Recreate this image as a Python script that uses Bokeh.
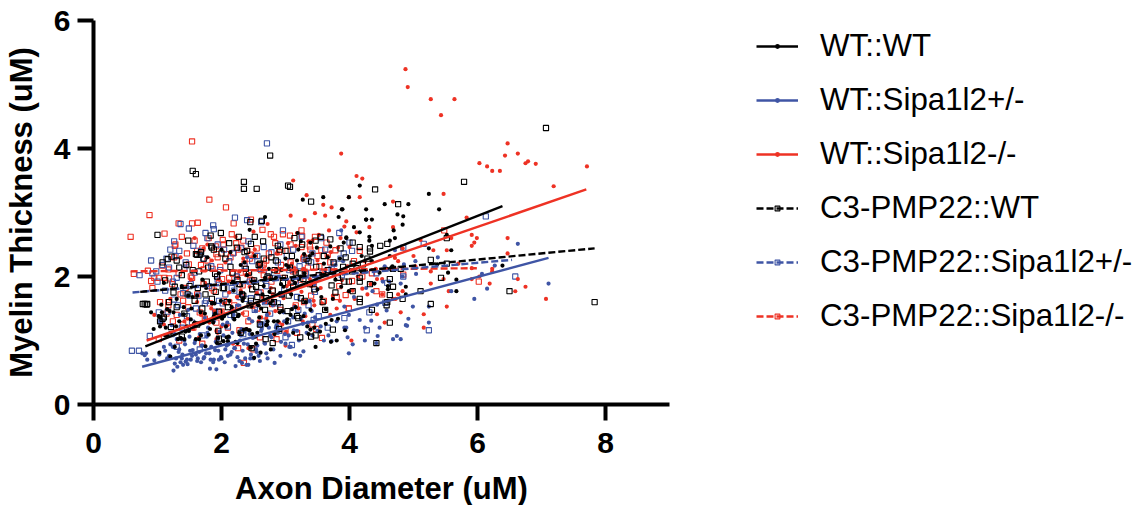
from bokeh.plotting import figure
from bokeh.models import Range1d, Legend, LegendItem, FixedTicker, Label
from bokeh.embed import file_html
from bokeh.resources import INLINE

X_LABEL = "Axon Diameter (uM)"
Y_LABEL = "Myelin Thickness (uM)"
NAMES = ["WT::WT", "WT::Sipa1l2+/-", "WT::Sipa1l2-/-", "C3-PMP22::WT", "C3-PMP22::Sipa1l2+/-", "C3-PMP22::Sipa1l2-/-"]
X_TICKS = [0, 2, 4, 6, 8]
Y_TICKS = [0, 2, 4, 6]

# regression line end points
wt_wt_line_x, wt_wt_line_y = [0.81, 6.39], [0.91, 3.10]
wt_het_line_x, wt_het_line_y = [0.76, 7.11], [0.59, 2.29]
wt_ko_line_x, wt_ko_line_y = [0.83, 7.70], [1.00, 3.36]
c3_wt_line_x, c3_wt_line_y = [0.73, 7.83], [1.76, 2.44]
c3_het_line_x, c3_het_line_y = [0.61, 6.54], [1.75, 2.26]
c3_ko_line_x, c3_ko_line_y = [0.58, 5.99], [2.08, 2.13]

# WT::WT, filled black circles
wt_wt_x = [4.16,3.99,5.24,3.89,4.26,4.55,4.92,5.40,4.75,4.84,4.26,4.35,4.83,4.07,4.16,4.69,4.31,4.31,4.71,4.63,3.95,3.91,4.35,5.24,5.59,5.52,4.63,4.19,4.35,6.39,5.67,5.54,4.88,4.88,5.67,4.39,4.60,4.60,3.99,3.87,4.47,4.19,4.26,4.67,4.59,5.37,
 3.59,3.27,3.88,4.26,3.83,2.68,2.44,3.95,3.19,3.39,3.49,3.70,3.24,0.90,1.06,0.94,1.04,1.21,1.36,1.46,1.49,1.16,1.03,1.20,1.37,1.42,1.65,1.80,1.93,1.75,2.03,2.10,2.25,2.35,2.44,2.56,2.71,2.82,2.95,2.46,2.61,2.51,2.77,3.03,3.10,3.28,3.39,3.63,3.45,3.39,2.20,2.04,1.88,1.72,1.52,1.41,1.25,1.15,1.07,1.05,
 1.30,1.62,1.85,2.12,2.31,2.58,2.90,3.15,3.50,3.78,1.10,1.38,1.70,1.96,2.18,2.40,2.66,2.85,3.05,3.30,3.60,3.85,1.78,2.00,2.30,2.52,2.74,3.00,3.20,3.42,3.66,2.14,2.36,2.62,2.88,3.12,3.34,3.56,3.74,1.55,1.32,1.90,2.08,2.48,2.80,3.08,2.72,2.54,2.94,3.18,3.36,3.72,3.80,1.12,1.58,1.98,2.28,
 1.02,1.13,1.27,1.34,1.44,1.53,1.57,1.68,1.74,1.82,1.89,1.95,2.01,2.07,2.16,2.22,2.27,2.33,2.39,2.47,2.53,2.59,2.64,2.70,2.76,2.83,2.91,2.97,3.02,3.09,3.16,3.23,3.31,3.38,3.47,3.54,3.63,3.71,3.82,3.93,1.19,1.29,1.41,1.48,1.60,1.67,1.76,1.87,1.99,2.11,2.19,2.26,2.34,2.43,2.50,2.57,2.68,2.75,2.86,2.93,3.01,3.11,3.21,3.29,3.44,3.58,3.69,3.76,3.89,4.02]
wt_wt_y = [3.42,3.24,3.29,3.05,3.05,3.13,3.13,3.05,2.97,2.94,2.89,2.89,2.81,2.77,2.69,2.72,2.62,2.56,2.60,2.56,2.60,2.53,2.48,2.44,2.41,2.65,2.32,2.32,2.24,2.17,1.95,2.06,1.84,1.72,1.77,1.89,1.85,1.80,1.77,1.84,2.06,2.08,2.08,2.16,2.12,2.19,
 3.24,3.20,3.05,2.89,2.93,2.93,2.73,2.61,2.68,2.53,2.45,2.47,2.55,1.44,1.56,1.18,1.22,1.12,1.04,1.22,1.15,1.07,0.81,0.75,1.03,1.02,1.02,1.09,0.96,0.91,0.99,0.99,0.96,1.17,1.16,1.12,1.25,1.30,1.46,0.89,0.81,0.73,0.86,1.33,1.49,1.38,1.48,1.49,1.20,1.17,1.33,1.38,1.38,1.28,1.33,1.41,1.44,1.49,1.44,1.36,
 1.65,1.70,1.58,1.62,1.75,1.55,1.72,1.90,1.80,1.95,1.90,1.85,1.95,2.05,1.92,2.02,1.85,1.98,2.15,2.05,2.20,2.28,2.30,2.42,2.18,2.32,2.12,2.28,2.42,2.36,2.30,2.38,2.22,1.50,1.30,1.12,1.22,1.68,1.65,1.68,1.02,1.42,1.05,1.10,1.62,1.40,1.30,0.95,2.10,2.25,1.10,
 1.32,1.00,1.08,1.28,0.94,1.12,1.38,1.20,0.90,1.30,1.14,1.50,1.26,1.08,1.42,1.18,1.58,1.04,1.34,1.22,1.52,0.98,1.40,1.62,1.18,1.54,1.06,1.36,1.72,1.24,1.58,1.10,1.44,1.84,1.28,1.72,1.52,2.00,1.60,2.32,0.90,1.14,1.26,0.98,1.34,1.16,1.46,1.22,1.52,1.70,1.02,1.44,1.82,1.28,1.62,1.06,1.78,1.38,1.66,1.16,1.90,1.56,1.98,1.76,2.10,1.88,2.18,1.95,1.96,2.35]

# WT::Sipa1l2+/-, filled blue circles
wt_het_x = [6.63,5.38,5.03,5.04,6.27,6.07,6.15,5.95,7.11,5.59,4.99,5.24,4.92,5.24,4.88,4.90,4.74,4.80,4.68,4.44,4.24,4.05,3.99,4.47,4.34,4.16,4.58,3.92,3.95,3.92,3.99,4.80,4.83,4.55,4.71,3.87,4.36,4.26,4.52,4.62,4.07,4.43,4.64,4.85,4.42,
 0.76,0.80,0.82,0.84,0.95,1.03,1.15,1.25,1.27,1.31,1.36,1.38,1.40,1.33,1.44,1.47,1.52,1.55,1.60,1.63,1.68,1.72,1.76,1.82,1.83,1.87,1.92,1.96,2.00,2.05,2.10,2.16,2.22,2.28,2.32,2.37,2.39,2.42,2.46,2.50,2.55,2.60,2.70,2.83,2.92,3.00,3.08,3.15,3.23,3.28,3.42,3.50,3.60,3.67,3.72,3.97,4.24,
 1.10,1.20,1.42,1.58,1.70,1.90,2.08,2.20,2.35,2.56,2.68,2.78,2.88,3.05,3.18,3.35,3.55,3.80,1.30,1.50,1.66,1.78,1.94,2.12,2.30,2.44,2.62,2.74,2.86,2.98,3.12,3.30,3.46,1.05,1.22,1.35,1.48,1.74,1.88,2.02,2.18,2.26,2.48,2.66,2.80,2.95,3.38,3.62,3.90,2.90,3.10,3.45,3.78,2.40,2.52,2.15,
 1.12,1.18,1.24,1.29,1.34,1.39,1.43,1.46,1.51,1.54,1.59,1.62,1.65,1.69,1.73,1.77,1.81,1.84,1.88,1.91,1.95,1.99,2.03,2.06,2.11,2.14,2.17,2.21,2.25,2.29,2.33,2.36,2.41,2.45,2.49,2.54,2.58,2.63,2.67,2.72,2.76,2.81,2.87,2.93,2.99,3.06,3.13,3.21,3.27,3.33,1.27,1.37,1.49,1.57,1.67,1.79,1.86,1.97,2.09,2.19,2.31,2.43,2.53,2.61,2.71,2.85,2.97,3.14,3.24,3.41]
wt_het_y = [2.51,2.30,2.24,2.04,2.17,2.04,1.81,1.65,1.89,1.77,1.53,1.53,1.34,1.28,1.24,1.23,1.07,1.02,1.02,1.07,1.00,0.94,0.80,1.20,1.31,1.32,1.47,1.20,1.20,1.53,1.40,1.89,2.00,2.16,2.41,2.72,1.77,1.82,1.92,1.92,1.68,1.56,2.11,2.19,0.96,
 0.80,0.77,0.80,0.70,0.69,0.78,0.72,0.53,0.64,0.59,0.66,0.72,0.62,0.82,0.67,0.63,0.70,0.85,0.78,0.72,0.66,0.72,0.80,0.56,0.70,0.66,0.55,0.70,0.72,0.66,0.76,0.82,0.60,0.68,0.65,0.72,0.62,0.62,0.78,0.72,0.82,0.68,0.80,0.65,0.76,0.95,0.90,0.78,0.76,0.83,1.08,1.15,1.00,1.08,0.99,1.05,1.20,
 0.90,0.94,1.00,0.96,0.92,0.85,0.92,0.88,0.95,0.92,0.95,1.05,1.12,1.08,1.15,1.28,1.22,1.30,1.02,1.06,1.10,1.12,1.02,1.05,1.08,1.10,1.15,1.20,1.24,1.30,1.36,1.42,1.36,1.30,1.24,1.40,1.48,1.35,1.30,1.25,1.35,1.55,1.30,1.60,1.55,1.70,1.62,2.10,2.24,2.00,1.80,1.88,2.18,2.30,1.92,1.45,
 0.84,0.76,0.90,0.72,0.86,0.78,0.94,0.70,0.84,0.76,1.00,0.68,0.82,0.92,0.74,1.06,0.80,0.90,0.70,0.98,0.84,0.74,1.08,0.86,0.94,0.78,1.12,0.88,0.74,1.00,0.84,1.14,0.94,0.72,1.04,0.86,0.76,1.18,0.96,0.72,1.08,0.86,1.22,0.98,1.10,0.90,1.16,1.00,1.26,1.12,1.10,1.02,1.16,1.22,1.28,1.20,1.34,1.14,1.28,1.40,1.18,1.34,1.46,1.26,1.40,1.20,1.44,1.52,1.34,1.46]

# WT::Sipa1l2-/-, filled red circles
wt_ko_x = [4.875,4.91,5.27,5.64,5.43,3.87,4.11,4.20,6.47,6.43,6.63,6.03,6.15,6.23,6.35,6.75,6.79,6.91,7.71,7.19,4.64,3.99,4.16,5.47,4.68,5.83,4.31,4.68,4.11,5.91,5.99,6.47,5.59,5.11,5.95,5.91,4.83,5.31,5.52,6.47,5.00,4.76,4.71,5.03,5.91,5.70,5.27,6.23,6.23,6.03,5.91,5.47,6.63,5.27,6.19,6.75,5.55,6.59,4.83,7.07,5.52,4.80,5.16,5.16,4.55,4.43,4.03,4.76,4.68,4.72,4.51,4.43,4.51,4.20,4.28,4.08,
 3.12,3.33,3.59,3.72,3.46,3.95,0.95,1.65,1.92,2.18,2.42,2.70,2.95,3.20,3.45,3.70,3.85,1.20,1.42,1.62,1.84,2.00,2.14,2.30,2.48,2.64,2.80,3.02,3.22,3.40,3.58,3.78,1.52,1.75,1.96,2.12,2.26,2.44,2.60,2.76,2.92,3.10,3.28,3.50,3.66,3.82,1.36,1.10,1.85,2.06,2.34,2.52,2.86,3.04,3.18,3.36,3.52,3.68,3.92,1.78,1.58,2.22,2.50,2.72,3.08,3.30,3.62,2.38,2.58,2.82,3.00,2.00,1.92,
 1.47,1.56,1.68,1.81,1.89,1.98,2.04,2.09,2.16,2.24,2.33,2.39,2.46,2.55,2.62,2.68,2.77,2.84,2.90,2.97,3.06,3.14,3.25,3.31,3.38,3.44,3.55,3.63,3.74,3.80,3.88,3.97,4.05,4.13,4.24,4.33,4.41,1.72,1.94,2.11,2.28,2.44,2.57,2.74,2.88,3.01,3.16,3.27,3.42,3.57,3.71,3.86,4.00]
wt_ko_y = [5.24,4.96,4.77,4.77,4.52,3.92,3.57,3.53,4.08,3.89,3.92,3.77,3.72,3.65,3.65,3.77,3.80,3.76,3.72,3.41,3.41,3.24,3.24,3.29,3.17,2.92,2.77,2.77,2.69,2.65,2.60,2.60,2.60,2.57,2.53,2.48,2.44,2.41,2.41,2.36,2.32,2.24,2.29,2.16,2.13,2.20,2.08,2.12,2.08,2.00,1.96,1.96,1.96,1.89,1.89,1.84,1.77,1.77,1.77,1.65,1.53,1.44,1.41,1.20,1.28,1.41,1.00,1.72,1.65,1.65,1.72,1.96,1.96,1.81,1.72,1.65,
 3.50,3.27,3.12,3.08,2.99,2.86,1.40,1.05,1.02,0.95,0.88,1.35,1.25,1.50,1.55,1.40,1.62,1.65,1.30,1.60,1.50,1.22,1.62,1.78,1.52,1.68,1.72,1.85,1.98,1.85,2.05,2.10,1.95,1.88,1.95,1.75,1.98,2.04,2.15,1.98,2.10,2.20,2.12,2.25,2.32,2.45,2.30,1.25,2.25,2.22,2.28,2.42,2.36,2.52,2.68,2.55,2.65,2.72,2.78,2.50,2.60,2.62,2.70,2.82,2.95,2.88,2.95,2.02,1.30,1.10,0.92,1.45,1.15,
 1.34,1.18,1.40,1.28,1.46,1.36,1.58,1.24,1.48,1.68,1.42,1.18,1.56,1.74,1.36,1.60,1.82,1.46,1.28,1.66,1.90,1.54,1.76,1.38,1.96,1.62,1.82,2.02,1.70,1.50,1.94,2.16,1.78,2.00,2.24,1.88,2.12,2.44,1.12,1.92,2.08,1.84,2.20,1.42,2.36,1.14,2.48,1.30,2.56,1.58,2.38,2.60,2.46]

# C3-PMP22::WT, open black squares
c3_wt_x = [7.07,5.79,4.40,4.76,5.52,4.59,4.48,4.05,4.16,4.32,4.32,5.27,5.52,4.28,4.21,4.05,4.11,3.94,4.68,4.80,5.43,4.63,4.16,4.16,3.99,4.32,4.68,5.11,6.50,7.83,4.05,4.63,4.83,4.16,4.16,4.59,4.58,4.35,5.27,4.63,4.42,4.04,
 2.76,1.55,1.60,2.35,2.35,2.55,3.04,3.07,2.45,3.40,2.63,1.83,1.99,2.27,2.46,1.00,1.48,1.84,1.85,1.22,1.16,1.62,1.66,0.77,0.80,0.83,0.84,1.08,3.47,1.04,1.10,1.21,1.38,3.23,3.40,3.74,2.47,2.69,2.80,1.96,3.47,
 1.12,1.25,1.38,1.50,1.65,1.75,1.90,2.02,2.14,2.25,2.38,2.48,2.60,2.72,2.85,2.96,3.10,3.22,3.33,3.48,3.60,3.75,3.90,1.18,1.30,1.42,1.58,1.70,1.85,1.96,2.08,2.20,2.32,2.44,2.56,2.68,2.80,2.92,3.05,3.18,3.30,3.45,3.62,3.78,3.92,1.30,1.45,1.60,1.72,1.88,2.00,2.12,2.24,2.40,2.52,2.65,2.78,2.88,3.00,3.14,3.26,3.55,3.70,3.86,1.62,1.95,2.30,2.60,2.90,3.20,
 1.08,1.34,1.55,1.68,1.79,1.93,2.06,2.17,2.29,2.36,2.43,2.51,2.58,2.66,2.75,2.83,2.91,2.99,3.07,3.16,3.28,3.36,3.52,3.66,3.82,1.27,1.47,1.63,1.77,1.91,2.04,2.10,2.27,2.34,2.46,2.54,2.62,2.70,2.82,2.94,3.03,3.12,3.24,3.38,3.58,3.72]
c3_wt_y = [4.32,3.48,3.36,3.13,2.60,2.51,2.48,2.53,2.46,2.44,2.39,2.26,2.20,2.28,2.19,2.20,2.13,2.30,2.12,2.12,1.98,1.96,1.98,1.92,1.92,1.88,1.84,1.77,1.77,1.60,1.77,1.71,1.65,1.65,1.60,1.60,1.55,1.48,1.57,1.28,0.96,2.08,
 3.89,3.65,3.60,3.48,3.37,3.37,3.42,3.40,2.85,3.17,2.87,2.64,2.68,2.62,2.51,2.65,2.56,2.47,2.45,2.31,2.27,2.34,2.34,1.57,1.57,1.56,1.57,1.34,2.56,1.30,1.36,1.21,1.06,1.05,1.06,1.17,0.88,1.02,0.96,1.03,1.08,
 1.94,1.75,2.02,1.85,2.08,1.72,2.04,1.82,2.15,1.95,2.12,1.80,2.20,2.00,2.25,1.90,2.32,2.05,2.28,2.15,2.32,2.22,2.15,1.60,1.52,1.42,1.62,1.50,1.65,1.45,1.60,1.40,1.72,1.55,1.68,1.48,1.78,1.52,1.70,1.38,1.62,1.80,1.48,1.75,1.92,2.25,2.18,2.35,2.28,2.42,2.36,2.52,2.45,2.40,2.62,2.55,2.30,2.48,2.40,2.60,2.50,2.62,2.58,2.44,1.25,1.15,1.12,1.25,1.18,1.35,
 2.22,2.14,2.10,2.38,2.14,2.00,2.28,2.06,1.88,2.38,2.06,1.94,2.18,2.28,1.98,2.10,2.42,1.98,2.14,2.06,1.96,2.24,2.02,2.10,1.98,1.84,1.72,1.82,1.92,1.76,1.82,1.52,1.88,1.70,1.62,1.84,1.90,1.66,1.60,1.72,1.46,1.84,1.66,1.88,1.60,1.86]

# C3-PMP22::Sipa1l2+/-, open blue squares
c3_het_x = [6.13,5.16,4.84,4.00,4.04,3.91,6.59,4.42,4.84,4.59,4.31,4.27,5.24,4.56,2.71,0.60,0.71,0.88,1.87,2.21,2.40,2.62,2.96,1.88,1.75,1.49,1.36,1.20,1.26,0.90,0.92,3.84,3.56,3.25,
 0.72,0.98,1.08,1.14,1.28,1.34,1.42,1.56,1.68,1.78,1.94,2.04,2.18,2.30,2.42,2.56,2.66,2.78,2.92,3.02,3.12,3.30,3.42,3.62,3.76,1.00,1.12,1.24,1.40,1.52,1.64,1.80,1.94,2.06,2.16,2.28,2.44,2.58,2.70,2.84,2.98,3.16,3.32,3.50,3.68,3.88,1.16,1.32,1.46,1.60,1.76,1.90,2.02,2.14,2.26,2.38,2.52,2.64,2.76,2.88,3.04,3.20,3.36,3.52,1.06,1.22,1.38,1.54,1.70,2.10,2.34,2.62,2.90,3.44,3.66,3.92,1.02,1.30,1.66,3.00,3.10,
 1.18,1.30,1.44,1.58,1.72,1.84,1.98,2.12,2.24,2.36,2.48,2.60,2.74,2.88,3.06,3.22,3.40,3.58,3.72,3.86,1.26,1.50,1.74,1.96,2.20,2.46,2.68,2.94,3.18,3.46]
c3_het_y = [2.94,2.51,2.45,2.53,2.40,2.36,2.00,2.05,2.00,1.90,1.44,1.16,1.16,1.59,4.08,0.84,0.84,1.07,2.80,2.92,2.88,2.85,2.72,2.74,2.68,2.75,2.82,2.42,2.55,2.25,2.05,2.68,2.60,2.62,
 2.02,2.08,2.18,2.28,2.32,2.40,2.12,2.48,2.40,2.60,2.50,2.42,2.36,2.44,2.55,2.32,2.46,2.38,2.50,2.32,2.42,2.26,2.36,2.42,2.20,1.92,1.78,1.92,1.74,1.88,1.70,1.85,1.95,1.72,1.82,1.68,1.92,1.75,1.85,1.98,1.80,1.92,2.05,1.98,2.10,2.02,1.45,1.55,1.38,1.50,1.62,1.45,1.58,1.40,1.52,1.65,1.48,1.30,1.42,1.58,1.30,1.48,1.55,1.38,1.30,1.10,1.20,1.28,1.08,1.22,1.10,1.25,1.15,1.32,1.20,1.35,1.44,0.90,0.86,1.05,0.93,
 2.14,1.98,2.22,2.06,2.28,2.16,2.10,2.24,2.00,2.16,2.24,2.12,2.06,2.22,2.10,2.16,2.22,2.06,2.12,2.28,1.64,1.70,1.58,1.62,1.78,1.66,1.60,1.72,1.68,1.76]

# C3-PMP22::Sipa1l2-/-, open red squares
c3_ko_x = [1.54,0.58,0.875,1.11,1.33,1.54,1.63,1.38,1.27,1.81,2.07,2.19,2.46,2.64,2.02,1.91,2.23,2.31,2.40,2.19,2.07,1.92,1.49,1.07,1.17,0.85,0.63,0.90,0.95,1.02,1.11,1.18,1.23,0.92,1.04,1.17,1.17,2.79,3.99,3.57,2.35,2.77,2.82,3.07,3.25,3.26,3.46,3.64,3.25,3.38,3.78,3.56,3.08,2.96,2.66,2.46,1.72,1.52,1.44,
 5.48,4.16,4.07,6.02,4.84,3.99,4.42,4.51,3.94,4.20,4.04,4.35,
 1.72,1.85,1.96,2.12,2.30,2.45,2.66,2.87,3.08,3.29,3.50,3.70,3.08,3.23,3.29,2.80,2.61,2.30,2.04,1.88,1.62,1.40,1.33,1.26,1.62,1.78,1.98,2.14,2.36,2.52,2.70,2.90,3.12,3.35,3.52,3.68,3.84,1.30,1.48,1.66,1.82,2.00,2.20,2.38,2.56,2.74,2.92,3.16,3.40,3.60,3.80,1.14,1.24,1.40,1.56,1.74,1.92,2.10,2.28,2.42,2.60,3.00,3.42,1.02,1.34,1.70,2.26,2.50,2.86,3.18,3.48,
 1.28,1.46,1.58,1.70,1.80,1.94,2.03,2.16,2.26,2.34,2.44,2.55,2.64,2.74,2.84,2.93,3.03,3.14,3.28,3.39,3.53,3.66,1.36,1.54,1.68,1.86,2.01,2.18,2.33,2.48,2.62,2.78,2.96,3.11,3.31,3.44]
c3_ko_y = [4.11,2.62,2.96,2.67,2.83,2.83,2.84,2.62,2.48,3.20,3.08,2.83,2.89,2.73,2.57,2.47,2.52,2.45,2.40,2.37,2.35,2.35,2.19,2.17,2.11,2.09,2.04,1.93,1.98,1.98,1.98,1.97,1.88,1.82,1.60,1.60,1.55,1.57,1.50,1.04,0.65,2.66,2.62,2.64,2.72,2.63,2.62,2.53,2.46,2.47,2.41,2.41,2.50,2.66,2.19,2.34,2.11,2.00,1.82,
 2.72,2.40,2.24,1.92,2.03,1.50,1.77,1.72,1.71,2.00,1.93,2.05,
 1.88,1.82,1.90,1.98,2.06,1.95,2.02,2.09,2.22,2.30,2.32,2.22,1.90,1.95,1.60,1.78,1.75,1.68,1.62,1.78,1.72,1.62,2.05,2.30,2.40,2.25,2.15,2.30,2.20,2.32,2.25,2.38,2.08,2.14,2.02,2.10,1.85,1.40,1.52,1.44,1.58,1.45,1.55,1.42,1.50,1.62,1.48,1.55,1.70,1.62,1.68,1.42,1.30,1.25,1.20,1.34,1.28,1.20,1.16,1.30,1.05,1.15,1.25,1.02,1.00,0.95,0.88,0.86,1.02,1.12,1.18,
 2.50,2.36,2.56,2.44,2.60,2.30,2.50,2.66,2.42,2.56,2.28,2.44,2.14,2.36,2.52,2.18,2.40,2.10,2.28,2.42,2.16,2.34,1.72,1.98,2.18,2.12,1.96,2.04,1.86,1.94,2.10,1.92,1.98,2.12,2.04,1.88]

BLACK, BLUE, RED = "#000000", "#3f55a5", "#ee3224"
FONT = "Liberation Sans"

p = figure(width=1132, height=505, frame_width=576, frame_height=384, output_backend="svg", toolbar_location=None,
           x_range=Range1d(0, 9), y_range=Range1d(0, 6),
           min_border_left=93, min_border_right=0, min_border_top=20, min_border_bottom=101,
           y_axis_label=Y_LABEL)
p.grid.visible = False
p.outline_line_color = None
p.background_fill_color = None

for ax, ticks in ((p.xaxis[0], X_TICKS), (p.yaxis[0], Y_TICKS)):
    ax.ticker = FixedTicker(ticks=ticks)
    ax.axis_line_width = 4
    ax.axis_line_color = BLACK
    ax.major_tick_line_width = 4
    ax.major_tick_line_color = BLACK
    ax.major_tick_out = 16
    ax.major_tick_in = 0
    ax.minor_tick_line_color = None
    ax.major_label_text_font = FONT
    ax.major_label_text_font_style = "bold"
    ax.major_label_text_font_size = "30px"
    ax.major_label_text_color = BLACK
    ax.axis_label_text_font = FONT
    ax.axis_label_text_font_style = "bold"
    ax.axis_label_text_font_size = "31px"
    ax.axis_label_text_color = BLACK
p.xaxis[0].major_label_standoff = 12
p.yaxis[0].major_label_standoff = 7
p.yaxis[0].axis_label_standoff = 12

xlab = Label(x=4.5, y=2, x_units="data", y_units="screen", text=X_LABEL, text_align="center",
             text_baseline="middle", text_font=FONT, text_font_style="bold", text_font_size="31px",
             text_color=BLACK)
p.add_layout(xlab, "below")

LW = 2.4
DASH = "7 3"
SQ, DOT = 5.2, 4.2
# points, drawn with the C3 series underneath
sq_ko = p.scatter(c3_ko_x, c3_ko_y, marker="square", size=SQ, fill_color=None, line_color=RED, line_width=1.1)
sq_het = p.scatter(c3_het_x, c3_het_y, marker="square", size=SQ, fill_color=None, line_color=BLUE, line_width=1.1)
c_ko = p.scatter(wt_ko_x, wt_ko_y, marker="circle", size=DOT, fill_color=RED, line_color=None)
c_het = p.scatter(wt_het_x, wt_het_y, marker="circle", size=DOT, fill_color=BLUE, line_color=None)
c_wt = p.scatter(wt_wt_x, wt_wt_y, marker="circle", size=DOT, fill_color=BLACK, line_color=None)
sq_wt = p.scatter(c3_wt_x, c3_wt_y, marker="square", size=SQ, fill_color=None, line_color=BLACK, line_width=1.1)

l_c3_ko = p.line(c3_ko_line_x, c3_ko_line_y, line_color=RED, line_width=LW, line_dash=DASH)
l_c3_het = p.line(c3_het_line_x, c3_het_line_y, line_color=BLUE, line_width=LW, line_dash=DASH)
l_c3_wt = p.line(c3_wt_line_x, c3_wt_line_y, line_color=BLACK, line_width=LW, line_dash=DASH)
l_ko = p.line(wt_ko_line_x, wt_ko_line_y, line_color=RED, line_width=LW)
l_het = p.line(wt_het_line_x, wt_het_line_y, line_color=BLUE, line_width=LW)
l_wt = p.line(wt_wt_line_x, wt_wt_line_y, line_color=BLACK, line_width=LW)

legend = Legend(items=[
    LegendItem(label=NAMES[0], renderers=[l_wt, c_wt]),
    LegendItem(label=NAMES[1], renderers=[l_het, c_het]),
    LegendItem(label=NAMES[2], renderers=[l_ko, c_ko]),
    LegendItem(label=NAMES[3], renderers=[l_c3_wt, sq_wt]),
    LegendItem(label=NAMES[4], renderers=[l_c3_het, sq_het]),
    LegendItem(label=NAMES[5], renderers=[l_c3_ko, sq_ko]),
], location=(87, 70), orientation="vertical", background_fill_color=None, border_line_color=None,
   padding=0, margin=45, spacing=18, glyph_width=42, glyph_height=12, label_standoff=22,
   label_text_font=FONT, label_text_font_size="31.3px", label_text_color=BLACK, label_height=36)
p.add_layout(legend, "right")

open("out.html", "w").write(file_html(p, INLINE))
